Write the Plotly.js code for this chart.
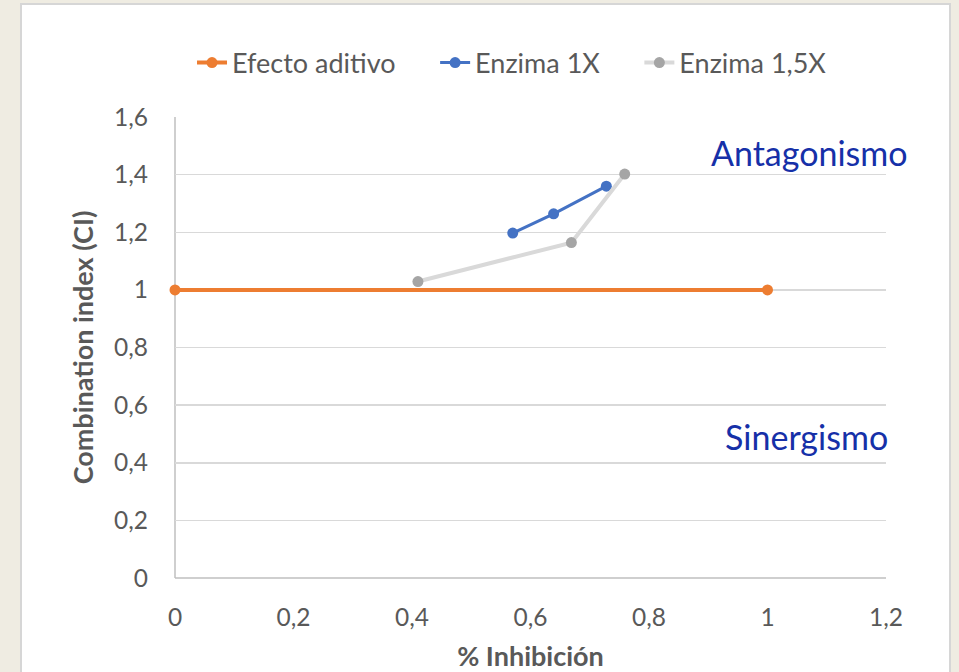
<!DOCTYPE html>
<html>
<head>
<meta charset="utf-8">
<script src="https://cdn.plot.ly/plotly-3.0.1.min.js"></script>
<style>html,body{margin:0;padding:0;background:#efece2;}#chart{width:959px;height:672px;}</style>
</head>
<body>
<div id="chart"></div>
<script>
var seriesNames = ["Efecto aditivo", "Enzima 1X", "Enzima 1,5X"];
var aditivoX = [0, 1];
var aditivoY = [1, 1];
var enz1X_x = [0.57, 0.639, 0.728];
var enz1X_y = [1.197, 1.264, 1.360];
var enz15X_x = [0.41, 0.669, 0.759];
var enz15X_y = [1.029, 1.164, 1.402];
var regionLabels = ["Antagonismo", "Sinergismo"];
var xTitle = "% Inhibición";
var yTitle = "Combination index (CI)";

var FONT = "Lato, 'Open Sans', sans-serif";
var PAD = "\u00a0\u00a0\u00a0\u00a0\u00a0";
var traces = [
  {x: aditivoX, y: aditivoY, name: seriesNames[0] + PAD, mode: "lines+markers", cliponaxis: false,
   line: {color: "#ED7D31", width: 4}, marker: {color: "#ED7D31", size: 11}},
  {x: enz1X_x, y: enz1X_y, name: seriesNames[1] + PAD, mode: "lines+markers", cliponaxis: false,
   line: {color: "#4472C4", width: 3}, marker: {color: "#4472C4", size: 11}},
  {x: enz15X_x, y: enz15X_y, name: seriesNames[2], mode: "lines+markers", cliponaxis: false,
   line: {color: "#D9D9D9", width: 4}, marker: {color: "#A5A5A5", size: 11}}
];

var layout = {
  width: 959, height: 672,
  margin: {l: 175, r: 73, t: 117, b: 94},
  paper_bgcolor: "#efece2",
  plot_bgcolor: "rgba(0,0,0,0)",
  separators: ",.",
  font: {family: FONT, color: "#595959", size: 24},
  showlegend: true,
  legend: {orientation: "h", x: 0.474, xanchor: "center", y: 1.117, yanchor: "middle",
           font: {family: FONT, size: 27, color: "#595959"}, bgcolor: "rgba(0,0,0,0)",
           itemwidth: 30, tracegroupgap: 0},
  xaxis: {range: [0, 1.2], dtick: 0.2, tick0: 0, showgrid: false, zeroline: false,
          showline: false, ticks: "", ticklabelstandoff: 22,
          tickfont: {family: FONT, size: 24.5, color: "#595959"},
          title: {text: xTitle, font: {family: FONT, size: 27, color: "#595959", weight: "bold"}, standoff: 17},
          fixedrange: true},
  yaxis: {range: [0, 1.6], dtick: 0.2, tick0: 0, showgrid: true, gridcolor: "#D9D9D9", gridwidth: 1.5,
          zeroline: false, showline: false, ticks: "", ticklabelstandoff: 26,
          tickfont: {family: FONT, size: 24.5, color: "#595959"},
          title: {text: yTitle, font: {family: FONT, size: 27, color: "#595959", weight: "bold"}, standoff: 12},
          fixedrange: true},
  shapes: [
    {type: "rect", xref: "paper", yref: "paper", x0: -0.2166, x1: 1.090, y0: -0.23, y1: 1.245,
     fillcolor: "#ffffff", line: {color: "#d6d6d6", width: 2}, layer: "below"},
    {type: "line", xref: "paper", yref: "paper", x0: 0, x1: 0, y0: 0, y1: 1,
     line: {color: "#BFBFBF", width: 1.5}, layer: "below"},
    {type: "line", xref: "paper", yref: "paper", x0: 0, x1: 1, y0: 0, y1: 0,
     line: {color: "#BFBFBF", width: 1.5}, layer: "below"}
  ],
  annotations: [
    {text: regionLabels[0], xref: "paper", yref: "paper", x: 1.034, y: 0.924, xanchor: "right", yanchor: "middle",
     showarrow: false, font: {family: FONT, size: 34, color: "#1630A8"}},
    {text: regionLabels[1], xref: "paper", yref: "paper", x: 1.006, y: 0.306, xanchor: "right", yanchor: "middle",
     showarrow: false, font: {family: FONT, size: 34, color: "#1630A8"}}
  ]
};

Plotly.newPlot("chart", traces, layout, {displayModeBar: false, staticPlot: true});
</script>
</body>
</html>
